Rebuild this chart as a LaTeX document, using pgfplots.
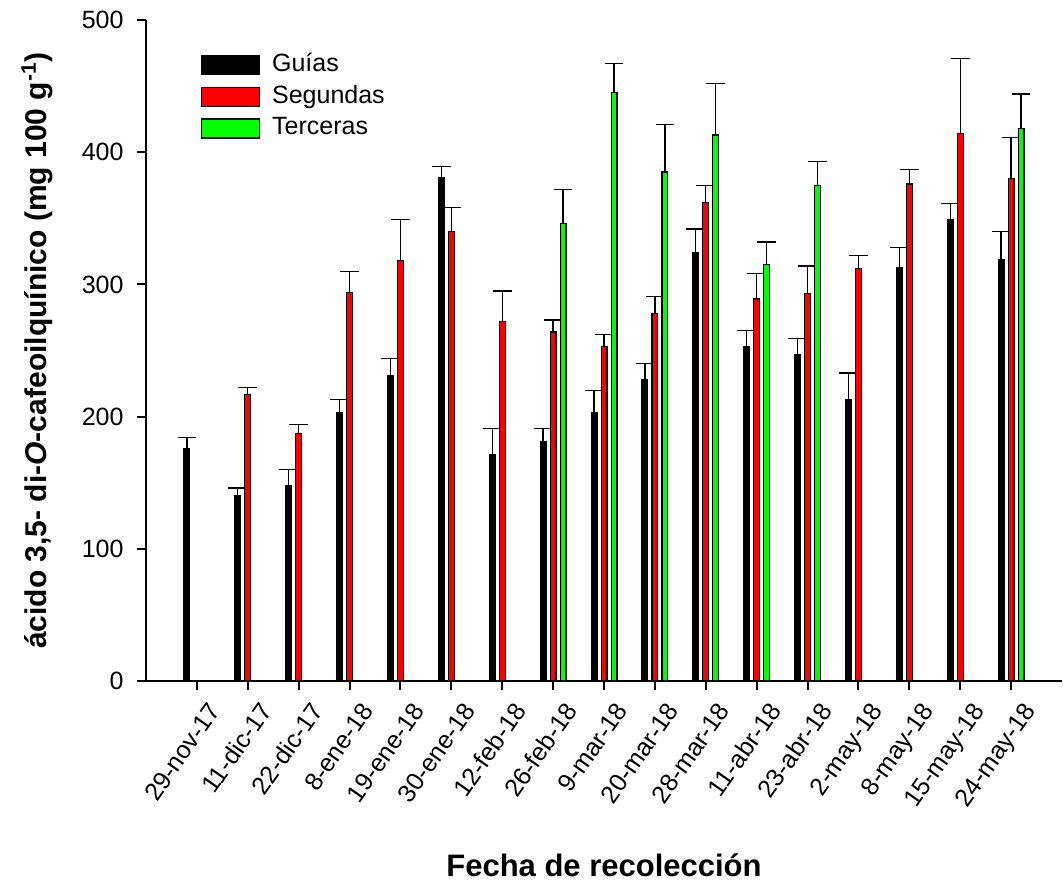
\documentclass[border=0pt]{standalone}
\usepackage{fontspec}
\setmainfont{Liberation Sans}
\usepackage{pgfplots}
\pgfplotsset{compat=1.18}
\usepackage{pgfplotstable}

\definecolor{segred}{RGB}{255,0,0}
\definecolor{tercgreen}{RGB}{0,255,0}

% category index, mean, error (upper)
\pgfplotstableread{
x y e
0 176 8
1 140 6
2 148 12
3 203 10
4 231 13
5 381 8
6 171 20
7 181 10
8 203 17
9 228 12
10 324 18
11 253 12
12 247 12
13 213 20
14 313 15
15 349 12
16 319 21
}\guias

\pgfplotstableread{
x y e
1 217 5
2 187 7
3 294 16
4 318 31
5 340 18
6 272 23
7 264 9
8 253 9
9 278 13
10 362 13
11 289 19
12 293 21
13 312 10
14 376 11
15 414 57
16 380 31
}\segundas

\pgfplotstableread{
x y e
7 346 26
8 445 22
9 385 36
10 413 39
11 315 17
12 375 18
16 418 26
}\terceras

\begin{document}
\begin{tikzpicture}
\useasboundingbox (-73pt,-100pt) rectangle (458.5pt,340.5pt);
\begin{axis}[
  at={(0pt,0pt)}, anchor=south west,
  scale only axis, width=458pt, height=330.5pt,
  xmin=-1, xmax=17, ymin=0, ymax=500,
  axis x line*=bottom, axis y line*=left,
  axis line style={line width=1pt},
  tick align=outside, major tick length=4.7pt,
  tick style={line width=1pt, black},
  xtick={0,...,16},
  xticklabels={29-nov-17,11-dic-17,22-dic-17,8-ene-18,19-ene-18,30-ene-18,12-feb-18,26-feb-18,9-mar-18,20-mar-18,28-mar-18,11-abr-18,23-abr-18,2-may-18,8-may-18,15-may-18,24-may-18},
  ytick={0,100,...,500},
  /pgf/number format/assume math mode=true,
  ticklabel style={font=\fontsize{12.5}{15}\selectfont},
  xticklabel style={xshift=5pt, yshift=-3.5pt, rotate=55, anchor=north east, inner sep=1pt},
  yticklabel style={xshift=-3pt},
  xlabel={\bfseries Fecha de recolección},
  xlabel style={font=\fontsize{15.5}{18}\selectfont, at={(axis description cs:0.5,0)}, anchor=base, yshift=-97.5pt},
  ylabel={\bfseries ácido 3,5- di-\textit{O}-cafeoilquínico (mg 100 g\textsuperscript{-1})},
  ylabel style={font=\fontsize{15}{18}\selectfont, at={(axis description cs:-0.119,0.5)}, anchor=center},
  ybar, bar width=2.9pt,
  every axis plot/.append style={line width=0.6pt, draw=black},
  error bars/y dir=plus, error bars/y explicit,
  error bars/error bar style={line width=0.65pt, black},
  error bars/error mark options={rotate=90, mark size=4.65pt, line width=0.65pt, black},
  legend image code/.code={\draw[#1, line width=0.6pt] (0pt,-4.75pt) rectangle (29pt,4.75pt);},
  legend cell align=left,
  legend style={draw=none, fill=none, font=\fontsize{12.5}{15}\selectfont,
    at={(axis description cs:0.053,0.959)}, anchor=north west,
    row sep=2.25pt, nodes={inner sep=1pt, text height=9pt, text depth=2.6pt},
    column sep=5pt},
]
\addplot[fill=black, bar shift=-5pt] table[x=x, y=y, y error=e] {\guias};
\addplot[fill=segred, bar shift=0pt] table[x=x, y=y, y error=e] {\segundas};
\addplot[fill=tercgreen, bar shift=5pt] table[x=x, y=y, y error=e] {\terceras};
\legend{Guías, Segundas, Terceras}
\end{axis}
\end{tikzpicture}
\end{document}
